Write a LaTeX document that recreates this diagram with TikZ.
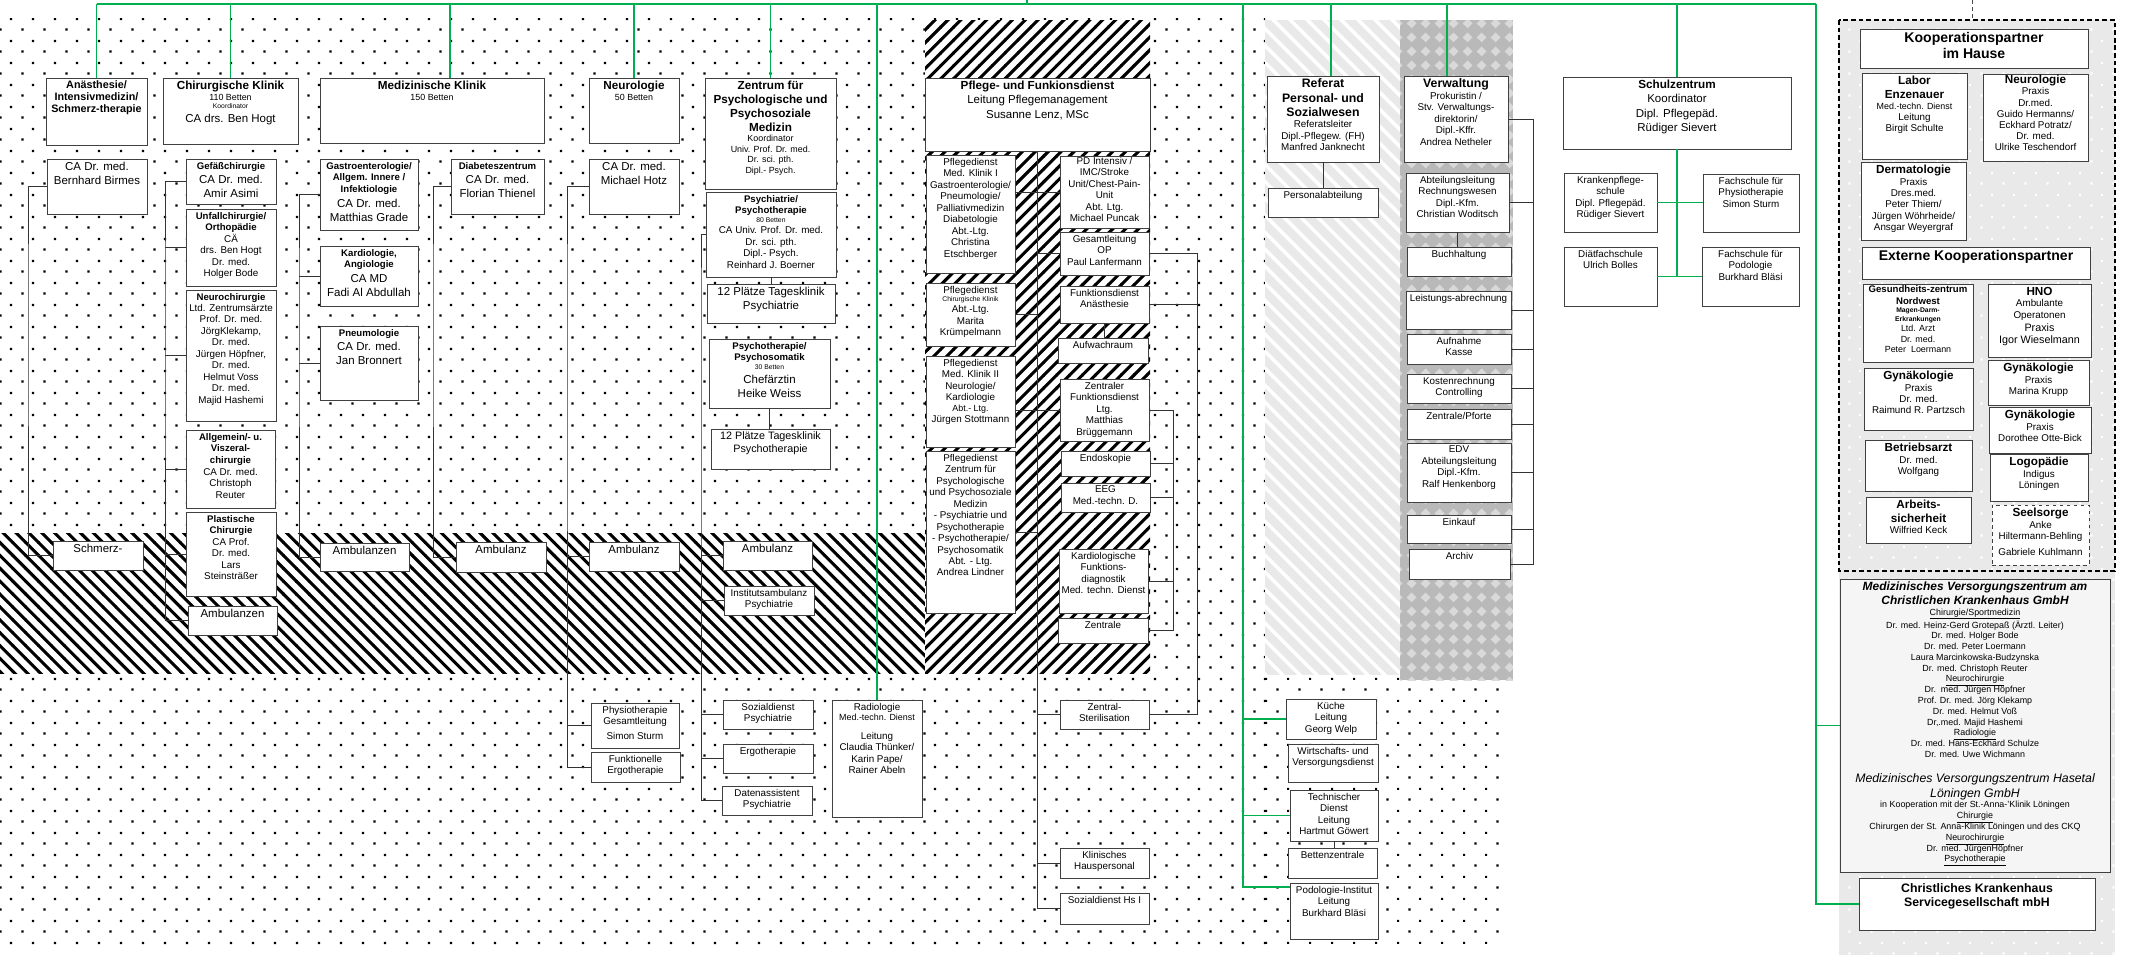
\documentclass[tikz,border=0pt]{standalone}
\usepackage{fontspec}
\setmainfont{Liberation Sans}
\usetikzlibrary{patterns}

\definecolor{kgreen}{RGB}{0,176,80}

% font sizes
\newcommand\khuge{\bfseries\fontsize{12}{14}\selectfont}
\newcommand\ktitle{\bfseries\fontsize{10}{11.9}\selectfont}
\newcommand\kbold{\bfseries\fontsize{9.2}{10.3}\selectfont}
\newcommand\khead{\bfseries\fontsize{8.2}{10.2}\selectfont}
\newcommand\klarge{\mdseries\fontsize{9.8}{12.2}\selectfont}
\newcommand\kmid{\mdseries\fontsize{9.2}{11}\selectfont}
\newcommand\knorm{\mdseries\fontsize{8.4}{9.8}\selectfont}
\newcommand\ksmall{\mdseries\fontsize{7.6}{9}\selectfont}
\newcommand\ktiny{\mdseries\fontsize{5.8}{7}\selectfont}
\newcommand\kmvz{\mdseries\upshape\fontsize{7.6}{9.2}\selectfont}

% background patterns
\pgfdeclarepatternformonly{kdots}{\pgfpointorigin}{\pgfpoint{18.78pt}{18.78pt}}{\pgfpoint{18.78pt}{18.78pt}}{%
  \pgfpathrectangle{\pgfpoint{0.4pt}{0.4pt}}{\pgfpoint{1.9pt}{1.9pt}}%
  \pgfpathrectangle{\pgfpoint{9.79pt}{9.79pt}}{\pgfpoint{1.9pt}{1.9pt}}%
  \pgfusepath{fill}}
\pgfdeclarepatternformonly{bandhatch}{\pgfpoint{-1pt}{-1pt}}{\pgfpoint{12pt}{12pt}}{\pgfpoint{11pt}{11pt}}{%
  \pgfsetlinewidth{2.6pt}%
  \pgfpathmoveto{\pgfpoint{-0.5pt}{11.5pt}}\pgfpathlineto{\pgfpoint{11.5pt}{-0.5pt}}%
  \pgfusepath{stroke}}
\pgfdeclarepatternformonly{pflhatch}{\pgfpoint{-1pt}{-1pt}}{\pgfpoint{12pt}{12pt}}{\pgfpoint{11pt}{11pt}}{%
  \pgfsetlinewidth{2.6pt}%
  \pgfpathmoveto{\pgfpoint{-0.5pt}{-0.5pt}}\pgfpathlineto{\pgfpoint{11.5pt}{11.5pt}}%
  \pgfusepath{stroke}}
\pgfdeclarepatternformonly{refstripes}{\pgfpoint{-1pt}{-1pt}}{\pgfpoint{15.5pt}{15.5pt}}{\pgfpoint{14.5pt}{14.5pt}}{%
  \pgfsetlinewidth{3pt}%
  \pgfpathmoveto{\pgfpoint{-0.5pt}{15pt}}\pgfpathlineto{\pgfpoint{15pt}{-0.5pt}}%
  \pgfusepath{stroke}}
\pgfdeclarepatternformonly{verwtiles}{\pgfpointorigin}{\pgfpoint{12pt}{12pt}}{\pgfpoint{12pt}{12pt}}{%
  \pgfpathmoveto{\pgfpoint{6pt}{1.5pt}}\pgfpathlineto{\pgfpoint{10.5pt}{6pt}}%
  \pgfpathlineto{\pgfpoint{6pt}{10.5pt}}\pgfpathlineto{\pgfpoint{1.5pt}{6pt}}\pgfpathclose
  \pgfusepath{fill}}

% box with corners (x1,y1) (x2,y2), text from the top
\newcommand\bx[7][]{%
  \pgfmathsetlengthmacro\bxw{0.3mm*(#5-#3)}%
  \pgfmathsetlengthmacro\bxh{0.3mm*(#6-#4)}%
  \node[box,#1] (#2) at (#3,#4) {\parbox[t][\bxh][t]{\bxw}{\centering\vspace*{2.6pt}#7\par}};}

\begin{document}
\begin{tikzpicture}[x=0.3mm,y=-0.3mm]
\tikzstyle{box}=[draw=black!75, line width=0.8pt, fill=white, inner sep=0pt, outer sep=0pt, anchor=north west, font=\knorm]
\tikzstyle{conn}=[draw=black!80, line width=0.55pt]
\tikzstyle{gline}=[draw=kgreen, line width=1.1pt]

\useasboundingbox (0,0) rectangle (2129,955);

% background areas
\fill[pattern=kdots] (0,18) rectangle (1265,948);
\fill[pattern=kdots] (1265,675) rectangle (1500,948);
\fill[white] (0,533) rectangle (927,673);
\fill[pattern=bandhatch] (0,533) rectangle (927,673);
\fill[white] (925,20) rectangle (1150,673);
\fill[pattern=pflhatch] (925,20) rectangle (1150,673);
\fill[gray!17] (1265,20) rectangle (1400,675);
\fill[pattern=refstripes, pattern color=white] (1265,20) rectangle (1400,675);
\fill[gray!55] (1400,20) rectangle (1513,680);
\fill[pattern=verwtiles, pattern color=gray!30] (1400,20) rectangle (1513,680);
\fill[gray!17] (1839,20) rectangle (2115,955);
\fill[pattern=kdots, pattern color=white] (1839,20) rectangle (2115,955);
\draw[line width=1.3pt, dash pattern=on 4pt off 2.5pt] (1839,20) rectangle (2115,571);

% Anaesthesie
\bx[font=\kbold]{ana}{46}{78}{147}{145}{Anästhesie/\\Intensivmedizin/\\Schmerz-therapie}
\bx{birmes}{47}{159}{147}{214}{\klarge CA Dr. med.\\Bernhard Birmes}
\bx{schmerz}{53}{541}{143}{570}{\klarge Schmerz-}

% Chirurgische Klinik
\bx{chir}{163}{78}{298}{144}{\ktitle Chirurgische Klinik\par\ksmall 110 Betten\par\ktiny Koordinator\par\klarge CA drs. Ben Hogt}
\bx{gef}{186}{159}{276}{204}{\khead Gefäßchirurgie\par\klarge CA Dr. med.\\Amir Asimi}
\bx{unfall}{186}{209}{276}{286}{\khead Unfallchirurgie/\\Orthopädie\par\knorm CÄ\\drs. Ben Hogt\\Dr. med.\\Holger Bode}
\bx{neuroch}{186}{290}{276}{421}{\khead Neurochirurgie\par\knorm Ltd. Zentrumsärzte\\Prof. Dr. med.\\JörgKlekamp,\\Dr. med.\\Jürgen Höpfner,\\Dr. med.\\Helmut Voss\\Dr. med.\\Majid Hashemi}
\bx{allg}{186}{430}{275}{508}{\khead Allgemein/- u.\\Viszeral-\\chirurgie\par\knorm CA Dr. med.\\Christoph\\Reuter}
\bx{plast}{186}{512}{276}{596}{\khead Plastische\\Chirurgie\par\knorm CA Prof.\\Dr. med.\\Lars\\Steinsträßer}
\bx{ambch}{188}{606}{277}{635}{\klarge Ambulanzen}

% Medizinische Klinik
\bx{med}{320}{78}{544}{143}{\ktitle Medizinische Klinik\par\ksmall 150 Betten}
\bx{gastro}{320}{159}{418}{230}{\khead Gastroenterologie/\\Allgem. Innere /\\Infektiologie\par\klarge CA Dr. med.\\Matthias Grade}
\bx{kardio}{320}{246}{418}{306}{\khead Kardiologie,\\Angiologie\par\klarge CA MD\\Fadi Al Abdullah}
\bx{pneumo}{320}{326}{418}{400}{\khead Pneumologie\par\klarge CA Dr. med.\\Jan Bronnert}
\bx{ambmed}{320}{543}{409}{571}{\klarge Ambulanzen}
\bx{diab}{451}{159}{544}{214}{\khead Diabeteszentrum\par\klarge CA Dr. med.\\Florian Thienel}
\bx{ambdia}{456}{542}{546}{572}{\klarge Ambulanz}

% Neurologie
\bx{neuro}{589}{78}{679}{143}{\ktitle Neurologie\par\ksmall 50 Betten}
\bx{hotz}{589}{159}{679}{214}{\klarge CA Dr. med.\\Michael Hotz}
\bx{ambneu}{589}{542}{679}{571}{\klarge Ambulanz}
\bx{physio}{591}{703}{679}{748}{Physiotherapie\\Gesamtleitung\\[3pt]Simon Sturm}
\bx{ergofk}{591}{752}{680}{782}{Funktionelle\\Ergotherapie}

% Zentrum fuer Psychologische und Psychosoziale Medizin
\bx{zpm}{705}{78}{836}{189}{\ktitle Zentrum für\\Psychologische und\\Psychosoziale\\Medizin\par\ksmall Koordinator\\Univ. Prof. Dr. med.\\Dr. sci. pth.\\Dipl.- Psych.}
\bx{psyc}{706}{192}{836}{277}{\khead Psychiatrie/\\Psychotherapie\par\ktiny 80 Betten\par\knorm CA Univ. Prof. Dr. med.\\Dr. sci. pth.\\Dipl.- Psych.\\Reinhard J. Boerner}
\bx{tkpsy}{707}{284}{835}{323}{\klarge 12 Plätze Tagesklinik\\Psychiatrie}
\bx{psom}{709}{339}{830}{408}{\khead Psychotherapie/\\Psychosomatik\par\ktiny 30 Betten\par\klarge Chefärztin\\Heike Weiss}
\bx{tkpth}{711}{429}{830}{469}{\kmid 12 Plätze Tagesklinik\\Psychotherapie}
\bx{ambpsy}{723}{541}{812}{570}{\klarge Ambulanz}
\bx{inst}{724}{586}{814}{615}{Institutsambulanz\\Psychiatrie}
\bx{sozpsy}{723}{700}{813}{729}{Sozialdienst\\Psychiatrie}
\bx{ergo}{723}{744}{813}{773}{Ergotherapie}
\bx{daten}{722}{786}{812}{815}{Datenassistent\\Psychiatrie}

% Radiologie
\bx{radio}{832}{700}{922}{817}{Radiologie\par\ksmall Med.-techn. Dienst\par\vspace{6pt}\knorm Leitung\\Claudia Thünker/\\Karin Pape/\\Rainer Abeln}

% Pflege- und Funktionsdienst
\bx{pflege}{925}{78}{1150}{151}{\ktitle Pflege- und Funkionsdienst\par\klarge Leitung Pflegemanagement\\Susanne Lenz, MSc}
\bx{pdmk}{926}{155}{1015}{273}{Pflegedienst\\Med. Klinik I\\Gastroenterologie/\\Pneumologie/\\Palliativmedizin\\Diabetologie\\Abt.-Ltg.\\Christina\\Etschberger}
\bx{pdint}{1060}{156}{1149}{228}{\vspace*{-1.5pt}PD Intensiv /\\IMC/Stroke\\Unit/Chest-Pain-\\Unit\\Abt. Ltg.\\Michael Puncak}
\bx{gesop}{1060}{232}{1149}{275}{Gesamtleitung\\OP\\Paul Lanfermann}
\bx{pdchir}{926}{283}{1015}{346}{Pflegedienst\par\ktiny Chirurgische Klinik\par\knorm Abt.-Ltg.\\Marita\\Krümpelmann}
\bx{fkan}{1060}{286}{1149}{323}{Funktionsdienst\\Anästhesie}
\bx{aufw}{1058}{338}{1148}{363}{Aufwachraum}
\bx{pdmkz}{926}{356}{1015}{447}{Pflegedienst\\Med. Klinik II\\Neurologie/\\Kardiologie\par\ksmall Abt.- Ltg.\par\knorm Jürgen Stottmann}
\bx{zfd}{1060}{379}{1149}{441}{Zentraler\\Funktionsdienst\\Ltg.\\Matthias\\Brüggemann}
\bx{endo}{1061}{451}{1150}{476}{Endoskopie}
\bx{eeg}{1061}{483}{1150}{512}{EEG\\Med.-techn. D.}
\bx{pdzp}{926}{451}{1015}{613}{Pflegedienst\\Zentrum für\\Psychologische\\und Psychosoziale\\Medizin\\- Psychiatrie und\\Psychotherapie\\- Psychotherapie/\\Psychosomatik\\Abt. - Ltg.\\Andrea Lindner}
\bx{kfd}{1059}{549}{1148}{613}{Kardiologische\\Funktions-\\diagnostik\\Med. techn. Dienst}
\bx{zentr}{1058}{618}{1148}{643}{Zentrale}
\bx{steril}{1060}{700}{1149}{729}{Zentral-\\Sterilisation}
\bx{hausp}{1060}{848}{1149}{878}{Klinisches\\Hauspersonal}
\bx{sozhs}{1060}{893}{1149}{924}{Sozialdienst Hs I}

% Referat und Verwaltung
\bx{referat}{1267}{76}{1379}{162}{\fontsize{10.5}{12}\bfseries Referat\\Personal- und\\Sozialwesen\par\knorm Referatsleiter\\Dipl.-Pflegew. (FH)\\Manfred Janknecht}
\bx{personal}{1268}{188}{1378}{217}{Personalabteilung}
\bx{verw}{1404}{76}{1508}{162}{\fontsize{10.5}{12}\bfseries Verwaltung\par\knorm Prokuristin /\\Stv. Verwaltungs-\\direktorin/\\Dipl.-Kffr.\\Andrea Netheler}
\bx{rewe}{1406}{173}{1509}{232}{Abteilungsleitung\\Rechnungswesen\\Dipl.-Kfm.\\Christian Woditsch}
\bx{buch}{1407}{247}{1511}{276}{Buchhaltung}
\bx{leist}{1406}{291}{1511}{329}{Leistungs-abrechnung}
\bx{aufn}{1407}{334}{1511}{364}{Aufnahme\\Kasse}
\bx{kost}{1407}{374}{1511}{403}{Kostenrechnung\\Controlling}
\bx{pforte}{1407}{409}{1511}{439}{Zentrale/Pforte}
\bx{edv}{1407}{443}{1511}{502}{EDV\\Abteilungsleitung\\Dipl.-Kfm.\\Ralf Henkenborg}
\bx{eink}{1407}{515}{1511}{543}{Einkauf}
\bx{archiv}{1409}{549}{1510}{579}{Archiv}

% Wirtschaft und Technik
\bx{kueche}{1286}{699}{1376}{739}{Küche\\Leitung\\Georg Welp}
\bx{wirt}{1288}{744}{1378}{782}{Wirtschafts- und\\Versorgungsdienst}
\bx{tech}{1290}{790}{1378}{841}{Technischer\\Dienst\\Leitung\\Hartmut Göwert}
\bx{betten}{1288}{848}{1377}{878}{Bettenzentrale}
\bx{podo}{1290}{883}{1378}{939}{Podologie-Institut\\Leitung\\Burkhard Bläsi}

% Schulzentrum
\bx{schul}{1563}{77}{1791}{149}{\ktitle Schulzentrum\par\klarge Koordinator\\Dipl. Pflegepäd.\\Rüdiger Sievert}
\bx{kps}{1564}{173}{1657}{232}{Krankenpflege-\\schule\\Dipl. Pflegepäd.\\Rüdiger Sievert}
\bx{fsphy}{1703}{174}{1799}{232}{Fachschule für\\Physiotherapie\\Simon Sturm}
\bx{diaet}{1564}{247}{1657}{306}{Diätfachschule\\Ulrich Bolles}
\bx{fspod}{1702}{247}{1799}{306}{Fachschule für\\Podologie\\Burkhard Bläsi}

% Kooperationspartner
\bx{koop}{1860}{29}{2088}{68}{\khuge Kooperationspartner\\im Hause}
\bx{labor}{1862}{73}{1967}{159}{\ktitle Labor\\Enzenauer\par\ksmall Med.-techn. Dienst\par\knorm Leitung\\Birgit Schulte}
\bx{neurop}{1983}{74}{2088}{161}{\vspace*{-1.5pt}\ktitle Neurologie\par\mdseries\fontsize{8.4}{9.5}\selectfont Praxis\\Dr.med.\\Guido Hermanns/\\Eckhard Potratz/\\Dr. med.\\Ulrike Teschendorf}
\bx{derma}{1861}{162}{1966}{240}{\ktitle Dermatologie\par\knorm Praxis\\Dres.med.\\Peter Thiem/\\Jürgen Wöhrheide/\\Ansgar Weyergraf}
\bx{ext}{1862}{247}{2090}{279}{\khuge Externe Kooperationspartner}
\bx{gzn}{1863}{284}{1973}{362}{\vspace*{-1pt}\khead Gesundheits-zentrum\\Nordwest\par\ktiny\bfseries Magen-Darm-\\Erkrankungen\par\ksmall Ltd. Arzt\\Dr. med.\\Peter\ \ Loermann}
\bx{hno}{1988}{284}{2091}{357}{\ktitle HNO\par\knorm Ambulante\\Operatonen\par\kmid Praxis\\Igor Wieselmann}
\bx{gyna}{1864}{368}{1973}{430}{\ktitle Gynäkologie\par\knorm Praxis\\Dr. med.\\Raimund R. Partzsch}
\bx{gynb}{1988}{360}{2089}{405}{\ktitle Gynäkologie\par\knorm Praxis\\Marina Krupp}
\bx{gync}{1989}{407}{2091}{453}{\ktitle Gynäkologie\par\knorm Praxis\\Dorothee Otte-Bick}
\bx{betr}{1865}{440}{1972}{491}{\ktitle Betriebsarzt\par\knorm Dr. med.\\Wolfgang}
\bx{logo}{1990}{454}{2088}{501}{\ktitle Logopädie\par\knorm Indigus\\Löningen}
\bx{arb}{1866}{497}{1971}{543}{\ktitle Arbeits-\\sicherheit\par\knorm Wilfried Keck}
\bx[dashed, line width=0.6pt]{seel}{1992}{505}{2089}{565}{\ktitle Seelsorge\par\knorm Anke\\Hiltermann-Behling\\[4pt]Gabriele Kuhlmann}

% MVZ und Servicegesellschaft
\bx[fill=gray!8]{mvz}{1840}{579}{2110}{872}{\bfseries\itshape\fontsize{10.2}{11.7}\selectfont Medizinisches Versorgungszentrum am\\Christlichen Krankenhaus GmbH\par
  \kmvz\underline{Chirurgie/Sportmedizin}\\Dr. med. Heinz-Gerd Grotepaß (Ärztl. Leiter)\\Dr. med. Holger Bode\\Dr. med. Peter Loermann\\Laura Marcinkowska-Budzynska\\Dr. med. Christoph Reuter\\\underline{Neurochirurgie}\\Dr.\ \ med. Jürgen Höpfner\\Prof. Dr. med. Jörg Klekamp\\Dr. med. Helmut Voß\\Dr,.med. Majid Hashemi\\\underline{Radiologie}\\Dr. med. Hans-Eckhard Schulze\\Dr. med. Uwe Wichmann\par\vspace{9pt}
  \mdseries\itshape\fontsize{10.5}{12.5}\selectfont Medizinisches Versorgungszentrum Hasetal\\Löningen GmbH\par
  \kmvz in Kooperation mit der St.-Anna-'Klinik Löningen\\\underline{Chirurgie}\\Chirurgen der St. Anna-Klinik Löningen und des CKQ\\\underline{Neurochirurgie}\\Dr. med. JürgenHöpfner\\\underline{Psychotherapie}}
\bx{cks}{1859}{878}{2095}{930}{\vspace*{2pt}\fontsize{10.5}{12.5}\bfseries Christliches Krankenhaus\\Servicegesellschaft mbH}

% green lines
\coordinate (gtop) at (1816,4);
\coordinate (gmed) at (450,4);
\coordinate (gmain) at (1027,4);
\coordinate (gwirt) at (1243,4);
\coordinate (gref) at (1331,4);
\coordinate (gverw) at (1447,4);
\coordinate (gkoop) at (1972,0);
\draw[gline] (ana.north |- gtop) -- (gtop);
\draw[gline] (ana.north) -- (ana.north |- gtop);
\draw[gline] (chir.north) -- (chir.north |- gtop);
\draw[gline] (gmed) -- (gmed |- med.north);
\draw[gline] (neuro.north) -- (neuro.north |- gtop);
\draw[gline] (zpm.north) -- (zpm.north |- gtop);
\draw[gline] (radio.north) -- (radio.north |- gtop);
\draw[gline] (gmain) -- ++(0,-4);
\draw[gline] (gref) -- (gref |- referat.north);
\draw[gline] (gverw) -- (gverw |- verw.north);
\draw[gline] (schul.north) -- (schul.north |- gtop);
\draw[gline] (gwirt) |- ([yshift=-1.2mm]podo.north west);
\draw[gline] (kueche.west) -- (kueche.west -| gwirt);
\draw[gline] (tech.west) -- (tech.west -| gwirt);
\draw[gline] (schul.south) -- (schul.south |- diaet.east);
\draw[gline] (kps.east) -- (kps.east -| fsphy.west);
\draw[gline] (diaet.east) -- (diaet.east -| fspod.west);
\draw[gline] (gtop) |- (cks.west);
\draw[gline] (mvz.west) -- (mvz.west -| gtop);
\draw[dashed, black!70, line width=0.6pt] (gkoop) -- ++(0,20);

% connectors
\coordinate (tana) at (28,300);
\coordinate (tchir) at (165,300);
\coordinate (tmed) at (299,300);
\coordinate (tdia) at (433,300);
\coordinate (tneu) at (567,300);
\coordinate (tpsy) at (701,300);
\coordinate (tpfl) at (1037,300);
\coordinate (top) at (1197,300);
\coordinate (tzfd) at (1173,500);
\coordinate (tverw) at (1533,300);
\draw[conn] (birmes.west) -| (tana) |- (schmerz.west);
\draw[conn] (gef.west) -| (tchir) |- (ambch.west);
\draw[conn] (unfall.west) -- (unfall.west -| tchir);
\draw[conn] (neuroch.west) -- (neuroch.west -| tchir);
\draw[conn] (allg.west) -- (allg.west -| tchir);
\draw[conn] (plast.west) -- (plast.west -| tchir);
\draw[conn] (gastro.west) -| (tmed) |- (ambmed.west);
\draw[conn] (kardio.west) -- (kardio.west -| tmed);
\draw[conn] (pneumo.west) -- (pneumo.west -| tmed);
\draw[conn] (diab.west) -| (tdia) |- (ambdia.west);
\draw[conn] (hotz.west) -| (tneu) |- (ergofk.west);
\draw[conn] (ambneu.west) -- (ambneu.west -| tneu);
\draw[conn] (physio.west) -- (physio.west -| tneu);
\draw[conn] (psyc.west) -| (tpsy) |- (daten.west);
\draw[conn] (ambpsy.west) -- (ambpsy.west -| tpsy);
\draw[conn] (inst.west) -- (inst.west -| tpsy);
\draw[conn] (sozpsy.west) -- (sozpsy.west -| tpsy);
\draw[conn] (ergo.west) -- (ergo.west -| tpsy);
\draw[conn] (psyc.south) -- (psyc.south |- tkpsy.north);
\draw[conn] (psom.south) -- (psom.south |- tkpth.north);
\draw[conn] (pflege.south -| tpfl) |- (sozhs.west);
\draw[conn] (pdint.west) -- (pdint.west -| pdmk.east);
\draw[conn] (gesop.west) -- (gesop.west -| tpfl);
\draw[conn] (pdchir.east) -- (pdchir.east -| tpfl);
\draw[conn] (zfd.west) -- (zfd.west -| pdmkz.east);
\draw[conn] (pdzp.east) -- (pdzp.east -| tpfl);
\draw[conn] (steril.west) -- (steril.west -| tpfl);
\draw[conn] (hausp.west) -- (hausp.west -| tpfl);
\draw[conn] (fkan.south) -- (fkan.south |- aufw.north);
\draw[conn] (gesop.east) -| (top) |- (steril.east);
\draw[conn] (fkan.east) -- (fkan.east -| top);
\draw[conn] (zfd.east) -| (tzfd) |- (zentr.east);
\draw[conn] (endo.east) -- (endo.east -| tzfd);
\draw[conn] (eeg.east) -- (eeg.east -| tzfd);
\draw[conn] (kfd.east) -- (kfd.east -| tzfd);
\draw[conn] (referat.south) -- (referat.south |- personal.north);
\draw[conn] (verw.east) -| (tverw) |- (archiv.east);
\draw[conn] (rewe.east) -- (rewe.east -| tverw);
\draw[conn] (leist.east) -- (leist.east -| tverw);
\draw[conn] (aufn.east) -- (aufn.east -| tverw);
\draw[conn] (kost.east) -- (kost.east -| tverw);
\draw[conn] (pforte.east) -- (pforte.east -| tverw);
\draw[conn] (edv.east) -- (edv.east -| tverw);
\draw[conn] (eink.east) -- (eink.east -| tverw);
\draw[conn] (rewe.south) -- (rewe.south |- buch.north);
\draw[conn] (tech.south) -- (tech.south |- betten.north);
\end{tikzpicture}
\end{document}
